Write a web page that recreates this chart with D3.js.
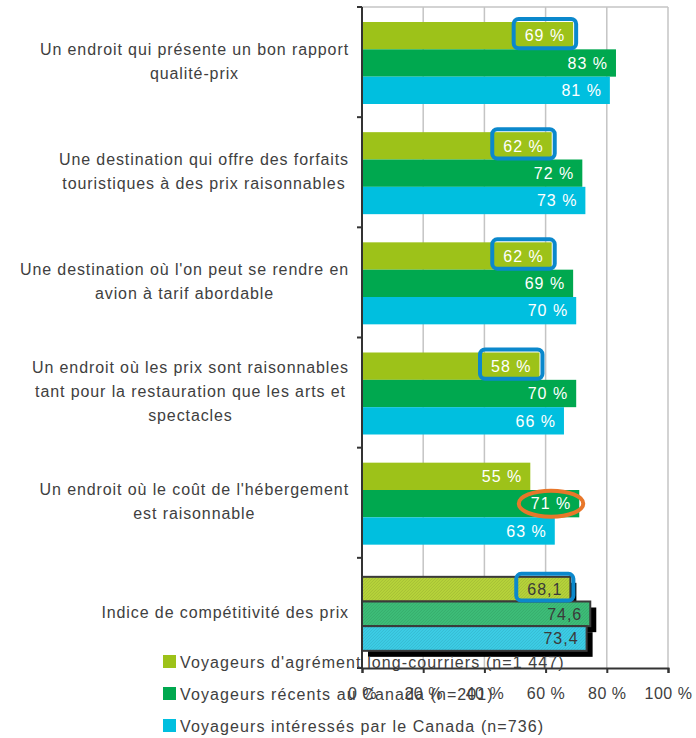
<!DOCTYPE html>
<html>
<head>
<meta charset="utf-8">
<script src="https://cdn.jsdelivr.net/npm/d3@7"></script>
<style>
  body { margin: 0; background: #fff; }
  svg text { font-family: "Liberation Sans", Arial, sans-serif; }
</style>
</head>
<body>
<div id="chart"></div>
<script>
// categories (each label split in lines)
var categories = [
  ["Un endroit qui présente un bon rapport", "qualité-prix"],
  ["Une destination qui offre des forfaits", "touristiques à des prix raisonnables"],
  ["Une destination où l'on peut se rendre en", "avion à tarif abordable"],
  ["Un endroit où les prix sont raisonnables", "tant pour la restauration que les arts et", "spectacles"],
  ["Un endroit où le coût de l'hébergement", "est raisonnable"],
  ["Indice de compétitivité des prix"]
];
var seriesNames = [
  "Voyageurs d'agrément long-courriers (n=1 447)",
  "Voyageurs récents au Canada (n=201)",
  "Voyageurs intéressés par le Canada (n=736)"
];
var longHaul = [69, 62, 62, 58, 55, 68.1];
var recent   = [83, 72, 69, 70, 71, 74.6];
var interest = [81, 73, 70, 66, 63, 73.4];
var xTicks = [0, 20, 40, 60, 80, 100];
// highlighted labels: [category index, series index, shape]
var highlights = [[0, 0, "box"], [1, 0, "box"], [2, 0, "box"], [3, 0, "box"], [5, 0, "box"], [4, 1, "ellipse"]];

var colors = ["#9DC219", "#00A84F", "#00BFDF"];
var lightColors = ["#B6D33A", "#3DBD78", "#3CCDE6"];
var W = 696, H = 738;

var svg = d3.select("#chart").append("svg").attr("width", W).attr("height", H);

var x = d3.scaleLinear().domain([0, 100]).range([362, 668]);
var y = d3.scaleBand().domain(d3.range(categories.length)).range([7, 668]);
var ySub = d3.scaleBand().domain([0, 1, 2]).range([15, 97]);
var ySubIdx = d3.scaleBand().domain([0, 1, 2]).range([19, 93]);

// patterns for the index bars
var defs = svg.append("defs");
lightColors.forEach(function(c, i) {
  var p = defs.append("pattern").attr("id", "hatch" + i)
    .attr("patternUnits", "userSpaceOnUse").attr("width", 3).attr("height", 3);
  p.append("rect").attr("width", 3).attr("height", 3).attr("fill", c);
  p.append("path").attr("d", "M0,3 L3,0").attr("stroke", d3.color(c).darker(0.35)).attr("stroke-width", 0.8);
});

// gridlines + top border
svg.append("g").selectAll("line").data(xTicks.slice(1)).enter().append("line")
  .attr("x1", d => x(d)).attr("x2", d => x(d)).attr("y1", 7).attr("y2", 668)
  .attr("stroke", "#c4c4c4").attr("stroke-width", 1.5);
svg.append("line").attr("x1", x(0)).attr("x2", x(100)).attr("y1", 7).attr("y2", 7)
  .attr("stroke", "#c4c4c4").attr("stroke-width", 1.5);

var data = [longHaul, recent, interest];
var idx = categories.length - 1;

var groups = svg.append("g").selectAll("g").data(categories).enter().append("g")
  .attr("transform", (d, i) => "translate(0," + y(i) + ")");

groups.each(function(cat, ci) {
  var g = d3.select(this);
  var sub = ci === idx ? ySubIdx : ySub;
  data.forEach(function(vals, si) {
    var v = vals[ci];
    if (ci === idx) {
      g.append("rect").attr("x", x(0) + 6).attr("y", sub(si) + 6)
        .attr("width", x(v) - x(0)).attr("height", sub.bandwidth())
        .attr("fill", "#000");
    }
  });
  data.forEach(function(vals, si) {
    var v = vals[ci];
    var r = g.append("rect").attr("x", x(0)).attr("y", sub(si))
      .attr("width", x(v) - x(0)).attr("height", sub.bandwidth());
    if (ci === idx) r.attr("fill", "url(#hatch" + si + ")").attr("stroke", "#3a3a3a").attr("stroke-width", 2);
    else r.attr("fill", colors[si]);
    g.append("text").attr("class", "val val-" + ci + "-" + si)
      .attr("x", x(v) - 8).attr("y", sub(si) + sub.bandwidth() / 2)
      .attr("dy", "0.36em").attr("text-anchor", "end")
      .attr("font-size", 16).attr("letter-spacing", 1)
      .attr("fill", ci === idx ? "#3a3a3a" : "#fff")
      .text(ci === idx ? String(v).replace(".", ",") : v + " %");
  });
});

// highlight marks
highlights.forEach(function(h) {
  var ci = h[0], si = h[1];
  var sub = ci === idx ? ySubIdx : ySub;
  var t = svg.select(".val-" + ci + "-" + si).node().getBBox();
  var top = y(ci) + sub(si);
  if (h[2] === "box") {
    svg.append("rect").attr("x", t.x - 11).attr("y", top - 3)
      .attr("width", t.width + 22).attr("height", sub.bandwidth() + 2)
      .attr("rx", 5).attr("fill", "none").attr("stroke", "#0B88CC").attr("stroke-width", 4);
  } else {
    svg.append("ellipse").attr("cx", t.x + t.width / 2).attr("cy", top + sub.bandwidth() / 2)
      .attr("rx", t.width / 2 + 12).attr("ry", 13)
      .attr("fill", "none").attr("stroke", "#E8772A").attr("stroke-width", 4);
  }
});

// left axis with ticks at category boundaries
var yb = y.domain().map(i => y(i)).concat([y.range()[1]]);
svg.append("line").attr("x1", x(0)).attr("x2", x(0)).attr("y1", 7).attr("y2", 668)
  .attr("stroke", "#333").attr("stroke-width", 2);
svg.append("g").selectAll("line").data(yb).enter().append("line")
  .attr("x1", x(0) - 5).attr("x2", x(0)).attr("y1", d => d).attr("y2", d => d)
  .attr("stroke", "#333").attr("stroke-width", 2);

// bottom axis
var xAxis = svg.append("g").attr("transform", "translate(0,668)")
  .call(d3.axisBottom(x).tickValues(xTicks).tickSize(5).tickFormat(d => d + " %"));
xAxis.select(".domain").attr("stroke", "#333").attr("stroke-width", 2);
xAxis.selectAll(".tick line").attr("stroke", "#333").attr("stroke-width", 2);
xAxis.selectAll(".tick text").attr("font-size", 16).attr("fill", "#404040").attr("y", 20)
  .attr("letter-spacing", 0.5)
  .attr("font-family", "Liberation Sans, Arial, sans-serif");

// category labels: lines centered within a block right-aligned at 348
groups.each(function(cat, ci) {
  var g = d3.select(this);
  var sub = ci === idx ? ySubIdx : ySub;
  var cy = (sub(0) + sub(2) + sub.bandwidth()) / 2 - 2;
  var lh = 24;
  var tx = g.append("text").attr("font-size", 16).attr("letter-spacing", 0.9)
    .attr("fill", "#404040").attr("text-anchor", "middle");
  cat.forEach(function(line, li) {
    tx.append("tspan").attr("x", 0).attr("y", cy + (li - (cat.length - 1) / 2) * lh).attr("dy", "0.36em").text(line);
  });
  var w = d3.max(tx.selectAll("tspan").nodes(), n => n.getComputedTextLength());
  tx.selectAll("tspan").attr("x", 349 - w / 2);
});

// legend
var leg = svg.append("g").selectAll("g").data(seriesNames).enter().append("g")
  .attr("transform", (d, i) => "translate(163," + (655 + i * 32) + ")");
leg.append("rect").attr("width", 13).attr("height", 13).attr("fill", (d, i) => colors[i]);
leg.append("text").attr("x", 17).attr("y", 7).attr("dy", "0.36em")
  .attr("font-size", 16).attr("letter-spacing", 1.1).attr("fill", "#404040").text(d => d);
</script>
</body>
</html>
